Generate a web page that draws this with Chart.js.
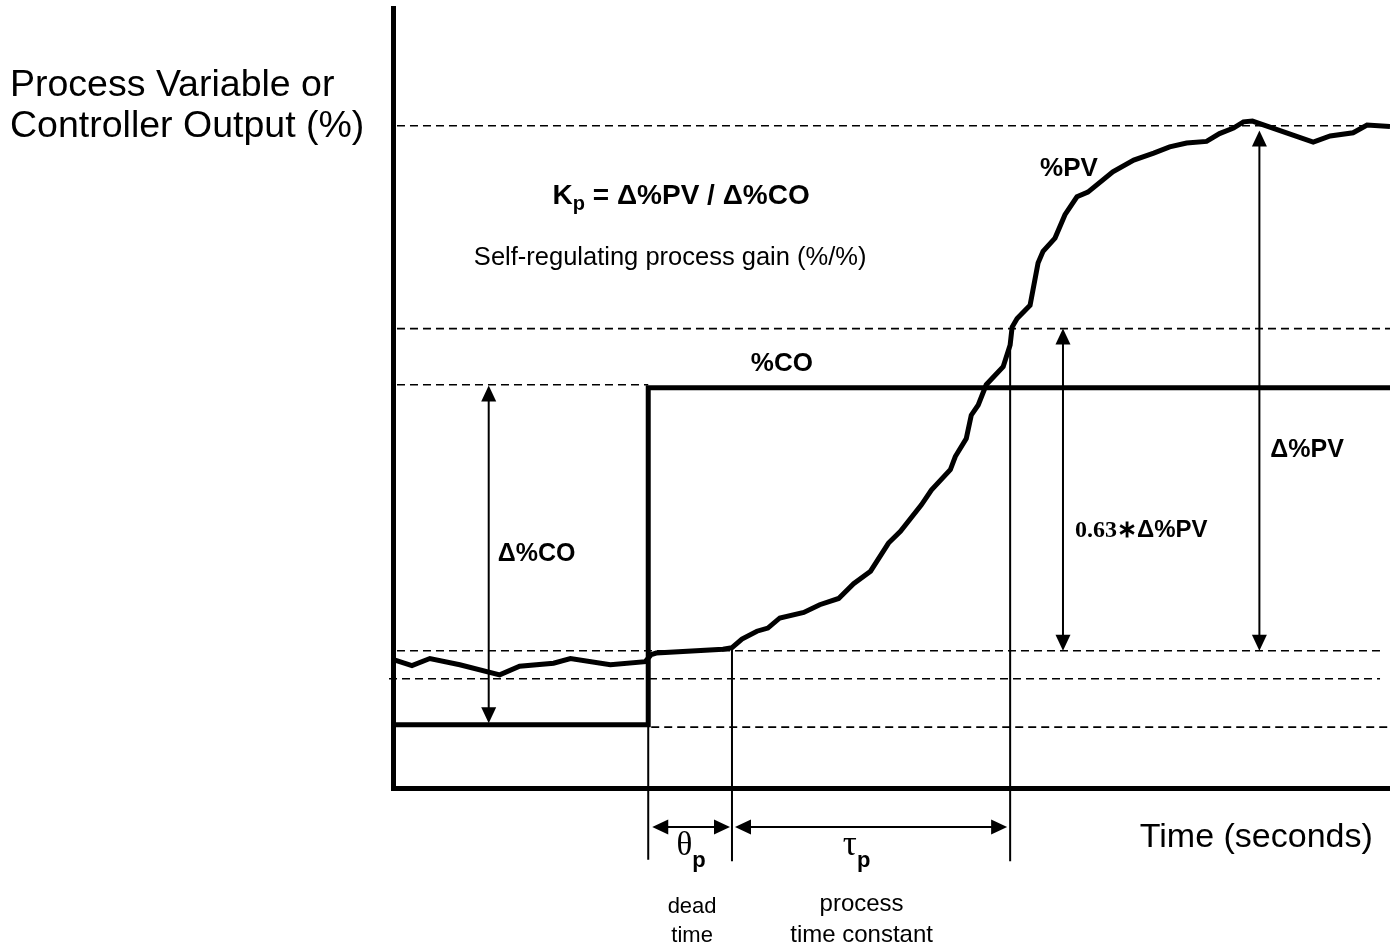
<!DOCTYPE html>
<html>
<head>
<meta charset="utf-8">
<script src="https://cdn.jsdelivr.net/npm/chart.js@4/dist/chart.umd.min.js"></script>
<style>
  html, body { margin: 0; padding: 0; background: #fff; }
</style>
</head>
<body>
<canvas id="myChart" width="1390" height="947"></canvas>
<script>
// time in seconds (0..100), value in percent (0..100)
const pvTime  = [0.2, 1.9, 3.7, 6.7, 10.7, 12.7, 16.1, 17.8, 21.8, 25.3, 25.9, 26.4, 33.1, 34.0,
                 35.0, 36.5, 37.6, 38.8, 41.2, 42.8, 44.7, 46.2, 47.9, 49.7, 50.9, 53.0, 54.0, 55.9,
                 56.4, 57.5, 58.0, 58.7, 59.5, 61.2, 61.9, 62.1, 62.6, 63.9, 64.7, 65.2, 66.4, 67.4,
                 68.6, 69.7, 72.2, 74.3, 76.3, 77.9, 79.6, 81.6, 82.9, 84.3, 85.3, 86.2, 92.3, 94.0,
                 96.3, 97.7, 100];
const pvValue = [16.4, 15.7, 16.6, 15.8, 14.5, 15.6, 16.0, 16.6, 15.8, 16.2, 17.1, 17.3, 17.8, 18.0,
                 19.1, 20.1, 20.5, 21.8, 22.5, 23.5, 24.3, 26.2, 27.8, 31.4, 32.9, 36.3, 38.2, 40.8,
                 42.5, 44.8, 47.8, 49.1, 51.7, 54.0, 56.8, 59.1, 60.2, 61.9, 67.3, 68.8, 70.5, 73.5,
                 75.8, 76.4, 79.0, 80.5, 81.4, 82.2, 82.7, 82.9, 83.9, 84.6, 85.4, 85.5, 82.8, 83.6,
                 84.0, 85.0, 84.8];
const coTime  = [0, 25.6, 25.6, 100];
const coValue = [8.1, 8.1, 51.3, 51.3];

// reference levels and times
const coLow = 8.1, coHigh = 51.3;
const pvBase = 14.0, pvStart = 17.6, pv63 = 58.9, pvFinal = 84.9;
const stepTime = 25.6, deadEnd = 34.0, tauEnd = 61.9;
const pvAtDeadEnd = 18.0, pvAtTau = 56.8;

const SANS = '"Liberation Sans", Arial, sans-serif';
const SERIF = '"Liberation Serif", "Times New Roman", serif';

function seg(xs, ys, width, dash) {
  return {
    data: xs.map((x, i) => ({ x: x, y: ys[i] })),
    borderColor: '#000',
    borderWidth: width,
    borderDash: dash || [],
    pointRadius: 0,
    showLine: true,
    fill: false,
    tension: 0,
    clip: false
  };
}

const DASH = [8, 5];
const datasets = [
  seg([0.4, 100], [pvFinal, pvFinal], 1.6, DASH),
  seg([0.4, 100], [pv63, pv63], 1.6, DASH),
  seg([0.4, stepTime], [coHigh + 0.4, coHigh + 0.4], 1.6, DASH),
  seg([0.4, 99], [pvStart, pvStart], 1.6, DASH),
  seg([-0.4, 99], [pvBase, pvBase], 1.6, DASH),
  seg([stepTime + 0.3, 100], [coLow - 0.3, coLow - 0.3], 1.6, DASH),
  seg([stepTime, stepTime], [coLow, -9.2], 2),
  seg([deadEnd, deadEnd], [pvAtDeadEnd, -9.4], 2),
  seg([tauEnd, tauEnd], [pvAtTau, -9.4], 2),
  seg(coTime, coValue, 5),
  seg(pvTime, pvValue, 5)
];

// double-headed arrows, in data coordinates
const arrows = [
  { x1: 9.6, y1: coHigh + 0.3, x2: 9.6, y2: coLow + 0.2 },
  { x1: 67.2, y1: pv63, x2: 67.2, y2: pvStart },
  { x1: 86.9, y1: pvFinal - 0.6, x2: 86.9, y2: pvStart },
  { x1: 26.0, y1: -5.0, x2: 33.8, y2: -5.0 },
  { x1: 34.3, y1: -5.0, x2: 61.6, y2: -5.0 }
];

// text labels; x,y are data coords of the baseline anchor
const labels = [
  { x: 28.9, y: 74.9, align: 'center', parts: [
      { t: 'K', f: 'bold 28px ' + SANS },
      { t: 'p', f: 'bold 20px ' + SANS, dy: 6 },
      { t: ' = \u0394%PV / \u0394%CO', f: 'bold 28px ' + SANS }] },
  { x: 27.8, y: 67.0, align: 'center', parts: [{ t: 'Self-regulating process gain (%/%)', f: '25.5px ' + SANS }] },
  { x: 67.8, y: 78.4, align: 'center', parts: [{ t: '%PV', f: 'bold 26px ' + SANS }] },
  { x: 39.0, y: 53.5, align: 'center', parts: [{ t: '%CO', f: 'bold 26px ' + SANS }] },
  { x: 10.5, y: 29.1, align: 'left', parts: [{ t: '\u0394%CO', f: 'bold 25px ' + SANS }] },
  { x: 88.0, y: 42.4, align: 'left', parts: [{ t: '\u0394%PV', f: 'bold 25px ' + SANS }] },
  { x: 68.4, y: 32.2, align: 'left', parts: [
      { t: '0.63\u2217', f: 'bold 24px ' + SERIF },
      { t: '\u0394%PV', f: 'bold 24px ' + SANS }] },
  { x: 29.9, y: -8.6, align: 'center', parts: [
      { t: '\u03b8', f: '33px ' + SERIF },
      { t: 'p', f: 'bold 22px ' + SANS, dy: 12 }] },
  { x: 46.5, y: -8.6, align: 'center', parts: [
      { t: '\u03c4', f: '35px ' + SERIF },
      { t: 'p', f: 'bold 22px ' + SANS, dy: 12 }] },
  { x: 30.0, y: -16.0, align: 'center', parts: [{ t: 'dead', f: '22px ' + SANS }] },
  { x: 30.0, y: -19.7, align: 'center', parts: [{ t: 'time', f: '22px ' + SANS }] },
  { x: 47.0, y: -15.8, align: 'center', parts: [{ t: 'process', f: '24px ' + SANS }] },
  { x: 47.0, y: -19.7, align: 'center', parts: [{ t: 'time constant', f: '24px ' + SANS }] },
  { x: 74.9, y: -7.6, align: 'left', parts: [{ t: 'Time (seconds)', f: '34px ' + SANS }] }
];

function drawHead(ctx, x, y, ang) {
  const len = 16, half = 7.5;
  ctx.beginPath();
  ctx.moveTo(x, y);
  ctx.lineTo(x - len * Math.cos(ang) + half * Math.sin(ang), y - len * Math.sin(ang) - half * Math.cos(ang));
  ctx.lineTo(x - len * Math.cos(ang) - half * Math.sin(ang), y - len * Math.sin(ang) + half * Math.cos(ang));
  ctx.closePath();
  ctx.fill();
}

const annotate = {
  id: 'annotate',
  afterDatasetsDraw(chart) {
    const ctx = chart.ctx;
    const xs = chart.scales.x, ys = chart.scales.y;
    ctx.save();
    ctx.strokeStyle = '#000';
    ctx.fillStyle = '#000';
    ctx.lineWidth = 2;
    arrows.forEach(a => {
      const x1 = xs.getPixelForValue(a.x1), y1 = ys.getPixelForValue(a.y1);
      const x2 = xs.getPixelForValue(a.x2), y2 = ys.getPixelForValue(a.y2);
      const ang = Math.atan2(y2 - y1, x2 - x1);
      ctx.beginPath();
      ctx.moveTo(x1 + 10 * Math.cos(ang), y1 + 10 * Math.sin(ang));
      ctx.lineTo(x2 - 10 * Math.cos(ang), y2 - 10 * Math.sin(ang));
      ctx.stroke();
      drawHead(ctx, x2, y2, ang);
      drawHead(ctx, x1, y1, ang + Math.PI);
    });

    ctx.textBaseline = 'alphabetic';
    ctx.textAlign = 'left';
    labels.forEach(l => {
      let w = 0;
      l.parts.forEach(p => { ctx.font = p.f; w += ctx.measureText(p.t).width; });
      let x = xs.getPixelForValue(l.x);
      const y = ys.getPixelForValue(l.y);
      if (l.align === 'center') x -= w / 2;
      l.parts.forEach(p => {
        ctx.font = p.f;
        ctx.fillText(p.t, x, y + (p.dy || 0));
        x += ctx.measureText(p.t).width;
      });
    });

    // value axis caption, left of the plot
    ctx.font = '37.5px ' + SANS;
    ctx.fillText('Process Variable or', 10, 96);
    ctx.fillText('Controller Output (%)', 10, 137);
    ctx.restore();
  }
};

const ctx = document.getElementById('myChart').getContext('2d');
const myChart = new Chart(ctx, {
  type: 'scatter',
  data: { datasets: datasets },
  options: {
    responsive: false,
    animation: false,
    layout: { padding: { left: 393, top: 8, right: 0, bottom: 159 } },
    plugins: { legend: { display: false }, tooltip: { enabled: false }, title: { display: false } },
    scales: {
      x: {
        type: 'linear', min: 0, max: 100,
        grid: { display: false, drawTicks: false },
        ticks: { display: false },
        border: { display: true, color: '#000', width: 5 },
        afterFit(scale) { scale.height = 0; }
      },
      y: {
        type: 'linear', min: 0, max: 100,
        grid: { display: false, drawTicks: false },
        ticks: { display: false },
        border: { display: true, color: '#000', width: 5 },
        afterFit(scale) { scale.width = 0; }
      }
    }
  },
  plugins: [annotate]
});
</script>
</body>
</html>
